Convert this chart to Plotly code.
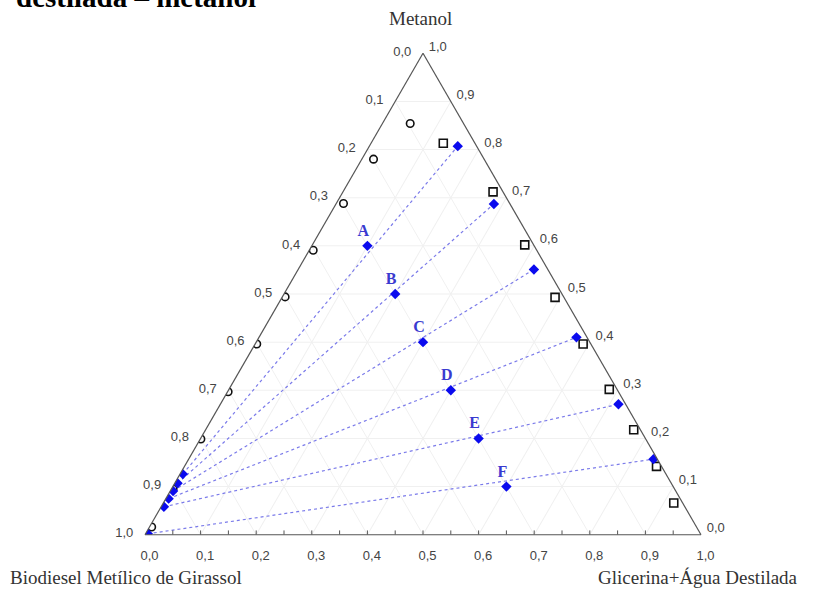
import plotly.graph_objects as go

# ---------------- data (mass fractions) ----------------
# a = Metanol, b = Biodiesel Metílico de Girassol, c = Glicerina+Água Destilada
bin_left_a = [0.854, 0.780, 0.688, 0.591, 0.494, 0.396, 0.297, 0.199, 0.095, 0.016]
bin_left_b = [0.096, 0.199, 0.299, 0.402, 0.501, 0.601, 0.702, 0.800, 0.902, 0.980]
bin_left_c = [0.050, 0.021, 0.013, 0.007, 0.005, 0.003, 0.001, 0.001, 0.003, 0.004]

bin_right_a = [0.813, 0.712, 0.602, 0.493, 0.396, 0.302, 0.218, 0.142, 0.066]
bin_right_b = [0.057, 0.018, 0.016, 0.016, 0.014, 0.014, 0.012, 0.009, 0.016]
bin_right_c = [0.130, 0.270, 0.382, 0.491, 0.590, 0.684, 0.770, 0.849, 0.918]

mix_labels = ["A", "B", "C", "D", "E", "F"]
mix_a = [0.60, 0.50, 0.40, 0.30, 0.20, 0.10]
mix_b = [0.30, 0.30, 0.30, 0.30, 0.30, 0.30]
mix_c = [0.10, 0.20, 0.30, 0.40, 0.50, 0.60]

tie_left_a = [0.126, 0.107, 0.091, 0.075, 0.058, 0.002]
tie_left_b = [0.869, 0.888, 0.904, 0.920, 0.937, 0.994]
tie_left_c = [0.005, 0.005, 0.005, 0.005, 0.005, 0.004]

tie_right_a = [0.807, 0.687, 0.551, 0.410, 0.271, 0.157]
tie_right_b = [0.034, 0.029, 0.025, 0.019, 0.013, 0.007]
tie_right_c = [0.159, 0.284, 0.424, 0.571, 0.716, 0.836]

tick_vals = [i / 10 for i in range(11)]
tick_text = [("%.1f" % (1 - v)).replace(".", ",") for v in tick_vals]
minor_tick_vals = [i / 20 for i in range(1, 20)]

title_top = "Metanol"
title_left = "Biodiesel Metílico de Girassol"
title_right = "Glicerina+Água Destilada"
chart_title = "destilada – metanol"

BLUE = "#0a0aee"
LINE_BLUE = "#7b7bea"
AXIS_COLOR = "#555555"
TITLE_FONT = dict(family="Liberation Serif", size=19, color="#333333")

fig = go.Figure()

# tie lines
for i in range(len(mix_labels)):
    fig.add_trace(go.Scatterternary(
        a=[tie_left_a[i], tie_right_a[i]],
        b=[tie_left_b[i], tie_right_b[i]],
        c=[tie_left_c[i], tie_right_c[i]],
        mode="lines",
        line=dict(color=LINE_BLUE, width=1.2, dash="dot"),
        showlegend=False, hoverinfo="skip"))

# small inside tick marks along the bottom edge (every 0.05)
tick_len = 0.009
tk_a, tk_b, tk_c = [], [], []
for v in minor_tick_vals:
    tk_a += [0, tick_len, None]
    tk_b += [v, v - tick_len / 2, None]
    tk_c += [1 - v, 1 - v - tick_len / 2, None]
fig.add_trace(go.Scatterternary(
    a=tk_a, b=tk_b, c=tk_c, mode="lines",
    line=dict(color=AXIS_COLOR, width=1), showlegend=False, hoverinfo="skip"))

# binodal left (circles)
fig.add_trace(go.Scatterternary(
    a=bin_left_a, b=bin_left_b, c=bin_left_c, mode="markers",
    marker=dict(symbol="circle-open", size=7.5, color="#111111", line=dict(width=1.6)),
    showlegend=False))

# binodal right (squares)
fig.add_trace(go.Scatterternary(
    a=bin_right_a, b=bin_right_b, c=bin_right_c, mode="markers",
    marker=dict(symbol="square-open", size=8, color="#111111", line=dict(width=1.6)),
    showlegend=False))

# tie line ends
fig.add_trace(go.Scatterternary(
    a=tie_left_a + tie_right_a, b=tie_left_b + tie_right_b, c=tie_left_c + tie_right_c,
    mode="markers", marker=dict(symbol="diamond", size=8, color=BLUE),
    showlegend=False))

# mixture points with labels
fig.add_trace(go.Scatterternary(
    a=mix_a, b=mix_b, c=mix_c, mode="markers+text",
    text=[s + "\u2002" for s in mix_labels], textposition="top center",
    textfont=dict(family="Liberation Serif", size=16, color="#3a3ad0", weight="bold"),
    marker=dict(symbol="diamond", size=8, color=BLUE),
    showlegend=False))

axis_common = dict(
    min=0, linecolor=AXIS_COLOR, linewidth=1.2,
    showgrid=True, gridcolor="#f0f0f0", gridwidth=1,
    tickmode="array", tickvals=tick_vals, ticktext=tick_text,
    ticks="outside", tickcolor="rgba(0,0,0,0)",
    tickfont=dict(family="Liberation Sans", size=13, color="#444444"),
    title_font=TITLE_FONT,
)

fig.update_layout(
    width=814, height=592,
    margin=dict(l=145, r=113, t=53, b=57),
    paper_bgcolor="white", plot_bgcolor="white",
    ternary=dict(
        sum=1, bgcolor="white",
        domain=dict(x=[0, 1], y=[0, 1]),
        aaxis=dict(title=dict(text=""), ticklen=9, **axis_common),
        baxis=dict(title=dict(text=""), ticklen=9, **axis_common),
        caxis=dict(title=dict(text=""), ticklen=6, **axis_common),
    ),
    annotations=[
        dict(text="<b>" + chart_title + "</b>", xref="paper", yref="paper",
             x=-0.2356, y=1.079, xanchor="left", yanchor="bottom", showarrow=False,
             font=dict(family="Liberation Serif", size=29, color="black")),
        dict(text=title_top, xref="paper", yref="paper",
             x=0.4964, y=1.0726, xanchor="center", yanchor="middle", showarrow=False,
             font=TITLE_FONT),
        dict(text=title_left, xref="paper", yref="paper",
             x=-0.2464, y=-0.0892, xanchor="left", yanchor="middle", showarrow=False,
             font=TITLE_FONT),
        dict(text=title_right, xref="paper", yref="paper",
             x=1.178, y=-0.0892, xanchor="right", yanchor="middle", showarrow=False,
             font=TITLE_FONT),
    ],
)

fig.write_html("out.html")
